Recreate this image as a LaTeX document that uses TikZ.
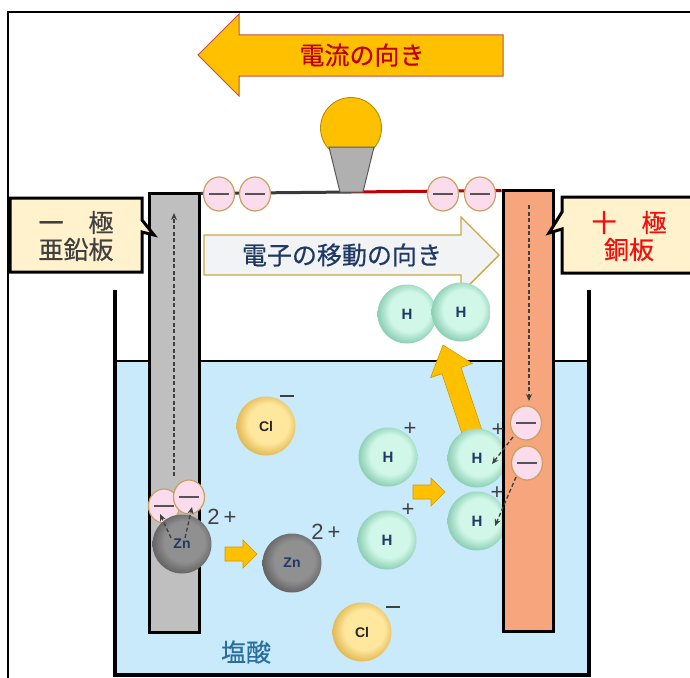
\documentclass[tikz,border=0pt]{standalone}
\usepackage{fontspec}
\setmainfont{Liberation Sans}
\newfontfamily\jp[FakeBold=0.5]{Noto Sans CJK JP}
\usetikzlibrary{arrows.meta,shapes.geometric}

\definecolor{amber}{HTML}{FFC000}
\definecolor{amberRim}{HTML}{C0504D}
\definecolor{curRed}{HTML}{C00000}
\definecolor{navy}{HTML}{1F3864}
\definecolor{paleArrow}{HTML}{F2F3F5}
\definecolor{goldRim}{HTML}{C9A94A}
\definecolor{labelFill}{HTML}{FFF2CC}
\definecolor{darkText}{HTML}{404040}
\definecolor{plusRed}{HTML}{F01010}
\definecolor{acid}{HTML}{C9EAFB}
\definecolor{acidText}{HTML}{2A6E9E}
\definecolor{zincGray}{HTML}{BFBFBF}
\definecolor{copper}{HTML}{F6A57C}
\definecolor{wireDark}{HTML}{3A3A3A}
\definecolor{ePink}{HTML}{FADCEC}
\definecolor{eRim}{HTML}{C8A060}
\definecolor{eDash}{HTML}{555555}
\definecolor{dashGray}{HTML}{3F3F3F}
\definecolor{baseGray}{HTML}{B0B0B0}
\definecolor{hIn}{HTML}{D0F7E8}
\definecolor{hOut}{HTML}{8FD0B6}
\definecolor{clIn}{HTML}{FFE79E}
\definecolor{clOut}{HTML}{E3BC58}
\definecolor{znIn}{HTML}{909090}
\definecolor{znOut}{HTML}{666666}

% soft sphere shadings for the ions
\pgfdeclareradialshading{ionH}{\pgfpoint{3bp}{3bp}}{color(0bp)=(hIn); color(17bp)=(hIn); color(26bp)=(hOut); color(50bp)=(hOut)}
\pgfdeclareradialshading{ionCl}{\pgfpoint{3bp}{3bp}}{color(0bp)=(clIn); color(17bp)=(clIn); color(26bp)=(clOut); color(50bp)=(clOut)}
\pgfdeclareradialshading{ionZn}{\pgfpoint{3bp}{3bp}}{color(0bp)=(znIn); color(17bp)=(znIn); color(26bp)=(znOut); color(50bp)=(znOut)}

\newcommand\electronat[2]{%
  \node[elec] (#1) at (#2) {};
  \draw[emin] ([xshift=-10pt]#1.center) -- ([xshift=10pt]#1.center);}

\begin{document}
\begin{tikzpicture}[x=1pt,y=-1pt,
  jpbig/.style={font=\jp\fontsize{25}{30}\selectfont},
  ion/.style={circle, minimum size=59pt, inner sep=0pt, shade},
  hion/.style={ion, shading=ionH, text=navy, font=\fontsize{15}{15}\selectfont\bfseries},
  clion/.style={ion, shading=ionCl, text=black!85, font=\fontsize{14}{14}\selectfont\bfseries},
  znion/.style={ion, shading=ionZn, text=navy, font=\fontsize{14}{14}\selectfont\bfseries},
  chg/.style={text=darkText, inner sep=0pt, font=\fontsize{22}{22}\selectfont},
  elec/.style={ellipse, minimum width=31pt, minimum height=34pt, inner sep=0pt,
               fill=ePink, draw=eRim, line width=1.2pt},
  emin/.style={draw=eDash, line width=2.6pt},
  dart/.style={draw=dashGray, line width=1.3pt, dash pattern=on 4pt off 2.5pt,
               -{Stealth[length=7pt,width=6pt]}},
  blockarrow/.style={fill=amber, draw=amber!80!black, line width=0.6pt},
  electrode/.style={rectangle, draw=black, line width=3pt, inner sep=0pt, minimum width=50pt},
  labelbox/.style={fill=labelFill, draw=black, line width=3pt, line join=miter}
]
\useasboundingbox (0,0) rectangle (690,677);
\clip (0,0) rectangle (690,677);
\fill[white] (0,0) rectangle (690,677);

% outer frame
\draw[line width=2pt] (8,690) -- (8,12) -- (700,12);

% direction of the current
\draw[fill=amber, draw=amberRim, line width=1pt, line join=miter]
  (198,55) -- (239,14) -- (239,35) -- (503,35) -- (503,76) -- (239,76) -- (239,96) -- cycle;
\node[jpbig, text=curRed] (current) at (362,55) {電流の向き};

% lamp
\node[circle, minimum size=61pt, inner sep=0pt, fill=amber, draw=amber!70!black, line width=0.8pt] (bulb) at (351,128) {};
\coordinate (lampfoot) at (351,192);

% hydrochloric acid in the beaker
\fill[acid] (116,361) rectangle (588,674);
\draw[line width=2pt] (116,361) -- (588,361);
\draw[line width=3.5pt] (115,290) -- (115,675) -- (589,675) -- (589,290);
\node[jpbig, text=acidText] (acidlabel) at (246,652) {塩酸};

% electrodes
\node[electrode, fill=zincGray, minimum height=439pt] (zinc) at (174,412.5) {};
\node[electrode, fill=copper, minimum height=441pt] (copperplate) at (528,410.5) {};

% wires to the lamp
\draw[wireDark, line width=3pt] ([yshift=-2pt]zinc.north east) -- (lampfoot);
\draw[curRed, line width=3pt] (lampfoot) -- ([yshift=-2pt]copperplate.north west);
\draw[fill=baseGray, draw=black!65, line width=1pt]
  (329,147) -- (374,147) -- (363,192) -- (340,192) -- cycle;

% direction of the electrons
\draw[fill=paleArrow, draw=goldRim, line width=1.4pt, line join=miter]
  (204,235) -- (461,235) -- (461,217) -- (499,255) -- (461,293) -- (461,275) -- (204,275) -- cycle;
\node[jpbig, text=navy] (flow) at (342,255) {電子の移動の向き};

% rising hydrogen
\draw[blockarrow, line join=miter]
  (481.5,428.8) -- (461.0,367.4) -- (472.4,363.6) -- (443,345) -- (430.6,377.6) -- (442.0,373.8) -- (462.5,435.2) -- cycle;

% hydrogen ions and molecule
\node[hion] (h1) at (388,457) {H};
\node[hion] (h2) at (387,540) {H};
\node[hion] (h3) at (477,458) {H};
\node[hion] (h4) at (477,521) {H};
\node[hion] (m1) at (407,314) {H};
\node[hion] (m2) at (461,312) {H};

% chloride ions
\node[clion] (cl1) at (266,426) {Cl};
\node[clion] (cl2) at (362,632) {Cl};

% zinc ion in solution
\node[znion] (zn2) at (292,563) {Zn};

% small motion arrows
\draw[blockarrow, line join=miter]
  (225,547) -- (243,547) -- (243,540) -- (257,554) -- (243,568) -- (243,561) -- (225,561) -- cycle;
\draw[blockarrow, line join=miter]
  (413,485) -- (431,485) -- (431,478) -- (445,492) -- (431,506) -- (431,499) -- (413,499) -- cycle;

% redraw the copper plate over the hydrogen ions touching it
\node[electrode, fill=copper, minimum height=441pt] (copperfront) at (528,410.5) {};

% electrons on the wire
\electronat{ew1}{219,194}
\electronat{ew2}{255,194}
\electronat{ew3}{443,194}
\electronat{ew4}{480,194}

% electrons leaving zinc
\electronat{ez1}{164,506}
\electronat{ez2}{189,497}
\node[znion] (zn1) at (182,544) {Zn};

% electrons on copper
\electronat{ec1}{526,423}
\electronat{ec2}{527,463}

% electron paths
\coordinate (zup0) at (174,476);
\coordinate (zup1) at (174,213);
\draw[dart] (zup0) -- (zup1);
\coordinate (cdn0) at (529,205);
\coordinate (cdn1) at (529,401);
\draw[dart] (cdn0) -- (cdn1);
\coordinate (za0) at (171,538);
\coordinate (za1) at (160,514);
\coordinate (zb0) at (185,538);
\coordinate (zb1) at (192,507);
\draw[dart] (za0) -- (za1);
\draw[dart] (zb0) -- (zb1);
\coordinate (ca0) at (513,437);
\coordinate (ca1) at (492,464);
\coordinate (cb0) at (516,477);
\coordinate (cb1) at (495,526);
\draw[dart] (ca0) -- (ca1);
\draw[dart] (cb0) -- (cb1);

% charges
\node[chg] (h1c) at (410,429) {+};
\node[chg] (h2c) at (408,510) {+};
\node[chg] (h3c) at (498,430) {+};
\node[chg] (h4c) at (497,493) {+};
\node[chg] (zn1c) at (222,517) {2\hspace{4pt}+};
\node[chg] (zn2c) at (326,532) {2\hspace{4pt}+};
\draw[darkText, line width=1.8pt] (280,396) -- (294,396);
\draw[darkText, line width=1.8pt] (386,607) -- (400,607);

% electrode labels
\draw[labelbox] (10,198) -- (142,198) -- (142,220) -- (154,235) -- (142,232) -- (142,272) -- (10,272) -- cycle;
\node[jpbig, text=darkText, align=center, inner sep=0pt] (neglabel) at (76,236) {一　極\\[-3pt]亜鉛板};
\draw[labelbox] (562,197) -- (696,197) -- (696,273) -- (562,273) -- (562,229) -- (549,233) -- (562,212) -- cycle;
\node[jpbig, text=plusRed, align=center, inner sep=0pt] (poslabel) at (629,236) {十　極\\[-3pt]銅板};
\end{tikzpicture}
\end{document}
